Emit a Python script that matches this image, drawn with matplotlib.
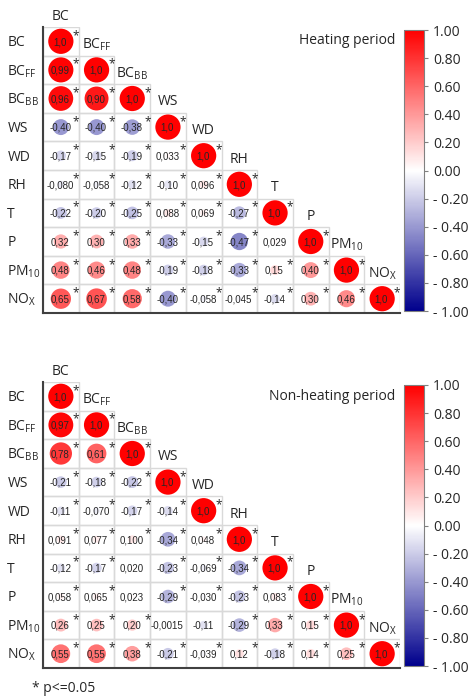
import numpy as np
import matplotlib.pyplot as plt
from matplotlib.colors import LinearSegmentedColormap
from matplotlib.patches import Rectangle
from matplotlib.ticker import FuncFormatter

plt.rcParams['font.family'] = ['Open Sans', 'DejaVu Sans']

labels = ['BC', r'BC$_\mathregular{FF}$', r'BC$_\mathregular{BB}$', 'WS', 'WD', 'RH', 'T', 'P',
          r'PM$_\mathregular{10}$', r'NO$_\mathregular{X}$']

# lower triangle of the correlation matrix, written as printed (comma decimals)
heating = [
    ["1,0"],
    ["0,99", "1,0"],
    ["0,96", "0,90", "1,0"],
    ["-0,40", "-0,40", "-0,38", "1,0"],
    ["-0,17", "-0,15", "-0,19", "0,033", "1,0"],
    ["-0,080", "-0,058", "-0,12", "-0,10", "0,096", "1,0"],
    ["-0,22", "-0,20", "-0,25", "0,088", "0,069", "-0,27", "1,0"],
    ["0,32", "0,30", "0,33", "-0,33", "-0,15", "-0,47", "0,029", "1,0"],
    ["0,48", "0,46", "0,48", "-0,19", "-0,18", "-0,33", "0,15", "0,40", "1,0"],
    ["0,65", "0,67", "0,58", "-0,40", "-0,058", "-0,045", "-0,14", "0,30", "0,46", "1,0"],
]
nonheating = [
    ["1,0"],
    ["0,97", "1,0"],
    ["0,78", "0,61", "1,0"],
    ["-0,21", "-0,18", "-0,22", "1,0"],
    ["-0,11", "-0,070", "-0,17", "-0,14", "1,0"],
    ["0,091", "0,077", "0,100", "-0,34", "0,048", "1,0"],
    ["-0,12", "-0,17", "0,020", "-0,23", "-0,069", "-0,34", "1,0"],
    ["0,058", "0,065", "0,023", "-0,29", "-0,030", "-0,23", "0,083", "1,0"],
    ["0,26", "0,25", "0,20", "-0,0015", "-0,11", "-0,29", "0,33", "0,15", "1,0"],
    ["0,55", "0,55", "0,38", "-0,21", "-0,039", "0,12", "-0,18", "0,14", "0,25", "1,0"],
]
# cells (row, col) that are NOT significant at p<=0.05
heating_ns = [(7, 6)]
nonheating_ns = [(6, 2), (7, 2), (8, 3), (8, 4)]

cmap = LinearSegmentedColormap.from_list('rwb', ['#00008c', '#ffffff', '#ff0000'])

W, H = 473, 697
fig = plt.figure(figsize=(W / 100, H / 100), dpi=100)


def px_axes(x0, y0, x1, y1):
    return fig.add_axes([x0 / W, 1 - y1 / H, (x1 - x0) / W, (y1 - y0) / H])


def draw(top, rows, ns, title):
    bottom = top + 286
    ax = px_axes(43, top, 400, bottom)
    cax = px_axes(404, top + 3, 424, bottom - 2)
    n = len(labels)
    xs, ys, vals = [], [], []
    for i, row in enumerate(rows):
        for j, s in enumerate(row):
            v = float(s.replace(',', '.'))
            xs.append(j + 0.5)
            ys.append(i + 0.5)
            vals.append(v)
            ax.add_patch(Rectangle((j, i), 1, 1, fill=False, ec='#d9d9d9', lw=1, zorder=1))
            ax.text(j + 0.48, i + 0.53, s, ha='center', va='center', fontsize=7,
                    color='#262626', family='Liberation Sans', zorder=3)
            if (i, j) not in ns:
                ax.text(j + 0.92, i + 0.3, '*', ha='center', va='center', fontsize=8.5,
                        color='#262626', zorder=3)
    vals = np.array(vals)
    sc = ax.scatter(xs, ys, s=330 * np.abs(vals), c=vals, cmap=cmap, vmin=-1, vmax=1,
                    linewidths=0, zorder=2)

    ax.set_xlim(0, n)
    ax.set_ylim(n, 0)
    ax.set_xticks([])
    ax.set_yticks([])
    for side in ['top', 'right']:
        ax.spines[side].set_visible(False)
    for side in ['left', 'bottom']:
        ax.spines[side].set_color('#404040')
        ax.spines[side].set_linewidth(1.5)

    for k, lab in enumerate(labels):
        ax.text(-1.0, k + 0.55, lab, ha='left', va='center', fontsize=10, color='#262626')
        ax.text(k + 0.5, k - 0.38, lab, ha='center', va='center', fontsize=10,
                color='#262626', clip_on=False)

    fig.text(395 / W, 1 - (top + 14) / H, title, ha='right', va='center', fontsize=10,
             color='#262626')

    cb = fig.colorbar(sc, cax=cax, ticks=np.linspace(-1, 1, 11))
    cb.formatter = FuncFormatter(lambda v, p: f"{v:.2f}" if v > -0.005 else f"- {abs(v):.2f}")
    cb.update_ticks()
    cb.outline.set_edgecolor('#808080')
    cb.outline.set_linewidth(0.8)
    cax.tick_params(length=3, width=0.8, color='#808080', labelsize=10, labelcolor='#262626')


draw(27, heating, heating_ns, 'Heating period')
draw(382, nonheating, nonheating_ns, 'Non-heating period')

fig.text(32 / W, 1 - 688 / H, '* p<=0.05', ha='left', va='center', fontsize=10, color='#262626')

fig.savefig('out.png', dpi=100)
